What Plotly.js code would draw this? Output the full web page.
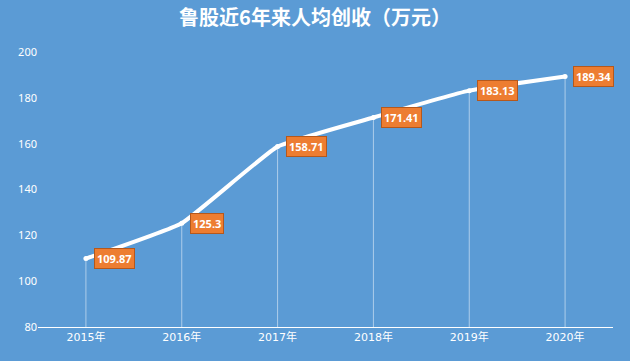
<!DOCTYPE html>
<html><head><meta charset="utf-8">
<script src="https://cdn.plot.ly/plotly-3.0.1.min.js"></script>
<style>html,body{margin:0;padding:0;background:#5B9BD5;}#c{width:630px;height:361px;}</style>
</head><body><div id="c"></div>
<script>
const categories = ["2015年","2016年","2017年","2018年","2019年","2020年"];
const values = [109.87, 125.3, 158.71, 171.41, 183.13, 189.34];
const labels = ["109.87","125.3","158.71","171.41","183.13","189.34"];
const yTicks = [80,100,120,140,160,180,200];
const yBase = 80;

const trace = {
  x: categories, y: values, type: "scatter", mode: "lines+markers",
  line: {color: "#ffffff", width: 4, shape: "spline", smoothing: 0.35},
  marker: {color: "#ffffff", size: 5},
  error_y: {type: "data", symmetric: false, array: values.map(() => 0),
            arrayminus: values.map(v => v - yBase), color: "rgba(255,255,255,0.5)",
            thickness: 1, width: 0},
  hoverinfo: "none"
};

const annotations = categories.map((c, i) => ({
  x: c, y: values[i], xref: "x", yref: "y", text: "<b>" + labels[i] + "</b>", showarrow: false,
  xanchor: "left", yanchor: "middle", xshift: 8,
  bgcolor: "#ED7D31", bordercolor: "#B5581C", borderwidth: 1, borderpad: 2,
  font: {family: "Noto Sans, DejaVu Sans, sans-serif", size: 11, color: "#ffffff"}
}));

const layout = {
  width: 630, height: 361,
  paper_bgcolor: "#5B9BD5", plot_bgcolor: "#5B9BD5",
  margin: {l: 38, r: 17, t: 52, b: 34},
  showlegend: false,
  title: {text: "<b>鲁股近6年来人均创收（万元）</b>", x: 0.5, xanchor: "center", y: 0.95, yanchor: "middle",
          font: {family: "Noto Sans CJK SC, sans-serif", size: 20, color: "#ffffff"}},
  xaxis: {type: "category", range: [-0.5, 5.5], showgrid: false, zeroline: false,
          showline: true, linecolor: "#ffffff", linewidth: 1, ticks: "",
          tickfont: {family: "DejaVu Sans, Noto Sans CJK SC, sans-serif", size: 11, color: "#ffffff"}},
  yaxis: {range: [80, 200], tickvals: yTicks, showgrid: false, zeroline: false,
          showline: false, ticks: "", ticklen: 0,
          tickfont: {family: "Noto Sans, sans-serif", size: 11, color: "#ffffff"}},
  annotations: annotations
};

Plotly.newPlot("c", [trace], layout, {staticPlot: true, displayModeBar: false});
</script></body></html>
